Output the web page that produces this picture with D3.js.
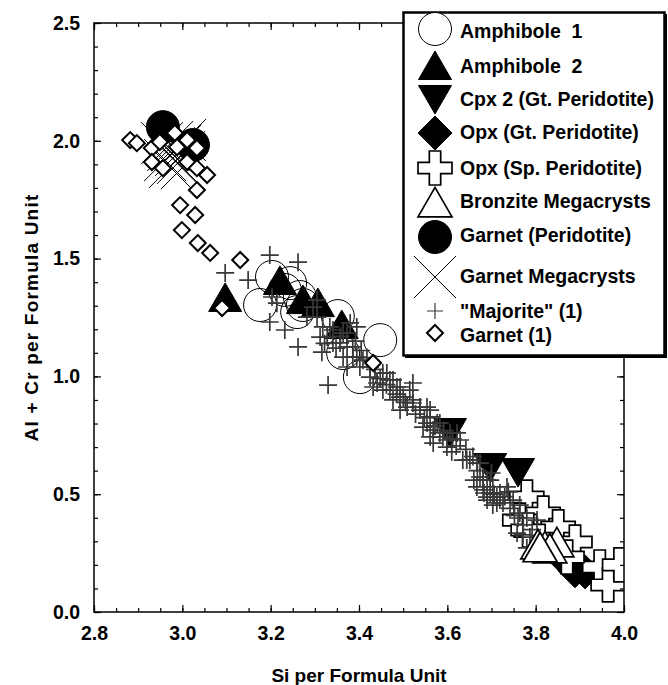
<!DOCTYPE html>
<html><head><meta charset="utf-8">
<script src="https://cdn.jsdelivr.net/npm/d3@7"></script>
<style>body{margin:0;background:#fff}svg{display:block}</style>
</head><body><svg id="c" width="668" height="685"></svg>
<script>
// ---- data (Si, Al+Cr per formula unit) ----
const xTicks = [2.8, 3.0, 3.2, 3.4, 3.6, 3.8, 4.0];
const yTicks = [0.0, 0.5, 1.0, 1.5, 2.0, 2.5];
const xTitle = "Si per Formula Unit";
const yTitle = "Al + Cr per Formula Unit";

const amphibole1 = [[3.203,1.422],[3.176,1.303],[3.244,1.396],[3.266,1.337],[3.260,1.273],[3.273,1.303],[3.352,1.256],[3.448,1.154],[3.364,1.099],[3.402,0.997],[3.232,1.367]];
const amphibole2 = [[3.097,1.316],[3.221,1.388],[3.273,1.307],[3.307,1.294],[3.361,1.201]];
const cpx2 = [[3.606,0.781],[3.697,0.632],[3.760,0.611]];
const opxGt = [[3.869,0.215],[3.889,0.175],[3.912,0.170],[3.995,0.180]];
const opxSp = [[3.780,0.488],[3.817,0.420],[3.851,0.361],[3.889,0.297],[3.945,0.191],[3.964,0.115],[3.764,0.390],[3.783,0.348],[3.871,0.233],[3.990,0.200]];
const bronzite = [[3.805,0.267],[3.848,0.276],[3.821,0.259],[3.832,0.250],[3.810,0.255]];
const garnetPer = [[2.956,2.058],[3.024,1.982]];
const garnetMeg = [[2.954,1.990],[2.968,1.961],[2.977,1.995],[2.986,1.940],[2.995,1.978],[3.004,1.952],[2.961,1.918],[2.972,1.889],[2.990,1.906],[3.006,2.003],[2.999,1.884],[2.981,1.969]];
const majorite = [
[3.097,1.439],[3.149,1.409],[3.198,1.515],[3.262,1.485],[3.198,1.231],[3.232,1.197],[3.262,1.125],[3.330,0.963],[3.316,1.103],[3.203,1.337],[3.214,1.311],
[3.305,1.252],[3.318,1.210],[3.328,1.167],[3.341,1.197],[3.357,1.142],[3.373,1.184],[3.380,1.227],[3.386,1.125],[3.364,1.082],[3.395,1.082],[3.305,1.324],[3.282,1.252],[3.296,1.294],
[3.312,1.167],[3.341,1.142],[3.364,1.184],[3.334,1.210],[3.395,1.210],[3.409,1.069],[3.425,1.040],[3.454,1.014],[3.441,0.972],[3.477,0.985],[3.470,0.942],[3.493,0.955],[3.515,0.942],[3.522,0.900],[3.493,0.912],[3.538,0.870],[3.561,0.857],[3.554,0.802],[3.577,0.802],[3.583,0.760],[3.599,0.730],[3.622,0.760],[3.561,0.743],[3.644,0.645],[3.667,0.632],[3.681,0.573],[3.703,0.531],[3.690,0.488],[3.712,0.463],[3.522,0.972],
[3.373,1.125],[3.386,1.082],[3.373,1.040],[3.402,1.040],[3.425,0.997],[3.454,0.942],[3.470,0.985],[3.486,0.955],[3.477,0.900],[3.500,0.912],[3.509,0.870],[3.522,0.887],[3.538,0.857],[3.554,0.870],[3.561,0.828],[3.545,0.785],[3.568,0.772],[3.583,0.802],[3.590,0.743],[3.606,0.760],[3.568,0.717],[3.599,0.700],[3.629,0.730],[3.635,0.645],[3.651,0.645],[3.674,0.632],[3.690,0.560],[3.719,0.505],[3.681,0.560],[3.735,0.531],[3.749,0.475],[3.463,1.014],[3.432,0.955],[3.493,0.857],
[3.667,0.531],[3.681,0.518],[3.697,0.505],[3.712,0.488],[3.719,0.475],[3.690,0.475],[3.726,0.463],[3.764,0.454],[3.764,0.420],[3.780,0.399],[3.758,0.335],[3.787,0.318],[3.803,0.390],[3.697,0.560],[3.674,0.573],
[3.683,0.505],[3.703,0.454],[3.760,0.399],[3.771,0.327],[3.780,0.272],
[3.322,1.140],[3.348,1.120],[3.358,1.170],[3.392,1.150],[3.405,1.110],[3.418,1.080],[3.436,1.030],[3.448,0.990],[3.462,0.965],[3.485,0.925],[3.505,0.890],[3.528,0.840],[3.548,0.825],[3.572,0.790],[3.592,0.770],[3.612,0.735],[3.620,0.705],[3.642,0.690],[3.658,0.660],[3.668,0.600],[3.700,0.590],[3.706,0.500],[3.730,0.490],[3.742,0.440],[3.752,0.410],[3.772,0.370],[3.792,0.350],[3.738,0.510],[3.660,0.560],[3.610,0.680]];
const garnet1 = [[2.882,2.003],[2.897,1.990],[2.931,1.969],[2.949,1.995],[2.983,2.033],[2.988,1.973],[3.011,2.003],[3.011,1.910],[3.033,1.969],[2.931,1.910],[2.956,1.884],[3.033,1.884],[3.056,1.855],[3.033,1.791],[2.995,1.727],[3.029,1.685],[2.999,1.621],[3.035,1.566],[3.063,1.524],[3.131,1.494],[3.090,1.290],[3.432,1.057]];

const legendLabels = ["Amphibole  1","Amphibole  2","Cpx 2 (Gt. Peridotite)","Opx (Gt. Peridotite)","Opx (Sp. Peridotite)","Bronzite Megacrysts","Garnet (Peridotite)","Garnet Megacrysts","\"Majorite\" (1)","Garnet (1)"];

// ---- layout ----
const L = 94, R = 624, T = 23, B = 612;
const FONT = "'Liberation Sans', Arial, Helvetica, sans-serif";

const svg = d3.select('#c');
const x = d3.scaleLinear().domain([2.8, 4.0]).range([L, R]);
const y = d3.scaleLinear().domain([0, 2.5]).range([B, T]);

// ---- symbol shapes ----
const shapes = {
  circle: r => `M${r},0A${r},${r} 0 1,1 ${-r},0A${r},${r} 0 1,1 ${r},0Z`,
  triUp: w => { const h = w*Math.sqrt(3)/2; return `M0,${-2*h/3}L${w/2},${h/3}L${-w/2},${h/3}Z`; },
  triDown: w => { const h = w*Math.sqrt(3)/2; return `M0,${2*h/3}L${w/2},${-h/3}L${-w/2},${-h/3}Z`; },
  diamond: s => `M0,${-s}L${s},0L0,${s}L${-s},0Z`,
  cross: s => { const a = s/3; return `M${-a},${-s}H${a}V${-a}H${s}V${a}H${a}V${s}H${-a}V${a}H${-s}V${-a}H${-a}Z`; },
  xmark: s => `M${-s},${-s}L${s},${s}M${-s},${s}L${s},${-s}`,
  plus: s => `M${-s},0H${s}M0,${-s}V${s}`
};

const styles = [
  {data: amphibole1, d: shapes.circle(16.5), fill: 'none', stroke: '#000', sw: 1},
  {data: amphibole2, d: shapes.triUp(33), fill: '#000', stroke: '#000', sw: 1},
  {data: cpx2, d: shapes.triDown(33), fill: '#000', stroke: '#000', sw: 1},
  {data: opxGt, d: shapes.diamond(17), fill: '#000', stroke: '#000', sw: 1},
  {data: opxSp, d: shapes.cross(17), fill: '#fff', stroke: '#000', sw: 1.7},
  {data: bronzite, d: shapes.triUp(34), fill: '#fff', stroke: '#000', sw: 1.7},
  {data: garnetPer, d: shapes.circle(16.5), fill: '#000', stroke: '#000', sw: 1},
  {data: garnetMeg, d: shapes.xmark(21), fill: 'none', stroke: '#000', sw: 1},
  {data: majorite, d: shapes.plus(9), fill: 'none', stroke: '#383838', sw: 1.7},
  {data: garnet1, d: shapes.diamond(8), fill: '#fff', stroke: '#000', sw: 2}
];
const order = [0,1,2,3,4,8,5,6,7,9];

svg.append('defs').append('clipPath').attr('id','clip')
  .append('rect').attr('x', L).attr('y', T).attr('width', R-L).attr('height', B-T);

const plot = svg.append('g').attr('clip-path','url(#clip)');
order.forEach(i => {
  const s = styles[i];
  plot.append('g').selectAll('path').data(s.data).join('path')
    .attr('transform', d => `translate(${x(d[0])},${y(d[1])})`)
    .attr('d', s.d).attr('fill', s.fill).attr('stroke', s.stroke)
    .attr('stroke-width', s.sw);
});

// ---- axes ----
const xMinor = d3.range(0, 25).map(i => 2.8 + i*0.05).filter(v => v <= 4.0001);
const yMinor = d3.range(0, 26).map(i => i*0.1);
const fmt = d3.format('.1f');

function styleAxis(g) {
  g.select('.domain').remove();
  g.selectAll('line').attr('stroke','#000').attr('stroke-width',1.2);
  g.selectAll('text').attr('font-family', FONT).attr('font-weight','bold')
    .attr('font-size', 19.5).attr('fill','#000');
}
const ax = svg.append('g');
ax.append('g').attr('transform',`translate(0,${B})`)
  .call(d3.axisBottom(x).tickValues(xMinor).tickSize(-4).tickFormat('')).call(styleAxis);
ax.append('g').attr('transform',`translate(0,${B})`)
  .call(d3.axisBottom(x).tickValues(xTicks).tickSize(-7).tickPadding(14).tickFormat(fmt)).call(styleAxis);
ax.append('g').attr('transform',`translate(0,${T})`)
  .call(d3.axisTop(x).tickValues(xMinor).tickSize(-4).tickFormat('')).call(styleAxis);
ax.append('g').attr('transform',`translate(0,${T})`)
  .call(d3.axisTop(x).tickValues(xTicks).tickSize(-7).tickFormat('')).call(styleAxis);
ax.append('g').attr('transform',`translate(${L},0)`)
  .call(d3.axisLeft(y).tickValues(yMinor).tickSize(-4).tickFormat('')).call(styleAxis);
ax.append('g').attr('transform',`translate(${L},0)`)
  .call(d3.axisLeft(y).tickValues(yTicks).tickSize(-7).tickPadding(14).tickFormat(fmt)).call(styleAxis);
ax.append('g').attr('transform',`translate(${R},0)`)
  .call(d3.axisRight(y).tickValues(yMinor).tickSize(-4).tickFormat('')).call(styleAxis);
ax.append('g').attr('transform',`translate(${R},0)`)
  .call(d3.axisRight(y).tickValues(yTicks).tickSize(-7).tickFormat('')).call(styleAxis);

svg.append('rect').attr('x', L).attr('y', T).attr('width', R-L).attr('height', B-T)
  .attr('fill','none').attr('stroke','#000').attr('stroke-width',1.5);

// titles
svg.append('text').attr('x', (L+R)/2).attr('y', 682).attr('text-anchor','middle')
  .attr('font-family', FONT).attr('font-weight','bold').attr('font-size',19).text(xTitle);
svg.append('text').attr('transform', `translate(38,${(T+B)/2}) rotate(-90)`).attr('text-anchor','middle')
  .attr('font-family', FONT).attr('font-weight','bold').attr('font-size',19)
  .attr('letter-spacing', 1.2).text(yTitle);

// ---- legend ----
const lg = svg.append('g');
lg.append('rect').attr('x', 405).attr('y', 14).attr('width', 262).attr('height', 344).attr('fill','#000');
lg.append('rect').attr('x', 403.5).attr('y', 12.5).attr('width', 261).attr('height', 343)
  .attr('fill','#fff').attr('stroke','#000').attr('stroke-width',2.5);

const legendSym = [
  {i:0, cy:29, fill:'#fff'},
  {i:1, cy:70}, {i:2, cy:95}, {i:3, cy:133}, {i:4, cy:168}, {i:5, cy:207},
  {i:6, cy:237}, {i:7, cy:277}, {i:8, cy:311, d: shapes.plus(8)}, {i:9, cy:333}
];
const legendBase = [38, 73, 106, 139, 175, 208, 242, 283, 318, 342];
legendSym.forEach((e, k) => {
  const s = styles[e.i];
  lg.append('path').attr('transform', `translate(435,${e.cy})`)
    .attr('d', e.d || s.d).attr('fill', e.fill || s.fill).attr('stroke', s.stroke)
    .attr('stroke-width', e.i === 8 ? 1.2 : s.sw);
  lg.append('text').attr('x', 460).attr('y', legendBase[k])
    .attr('font-family', FONT).attr('font-weight','bold').attr('font-size',19.5)
    .style('white-space','pre').text(legendLabels[k]);
});
</script></body></html>
